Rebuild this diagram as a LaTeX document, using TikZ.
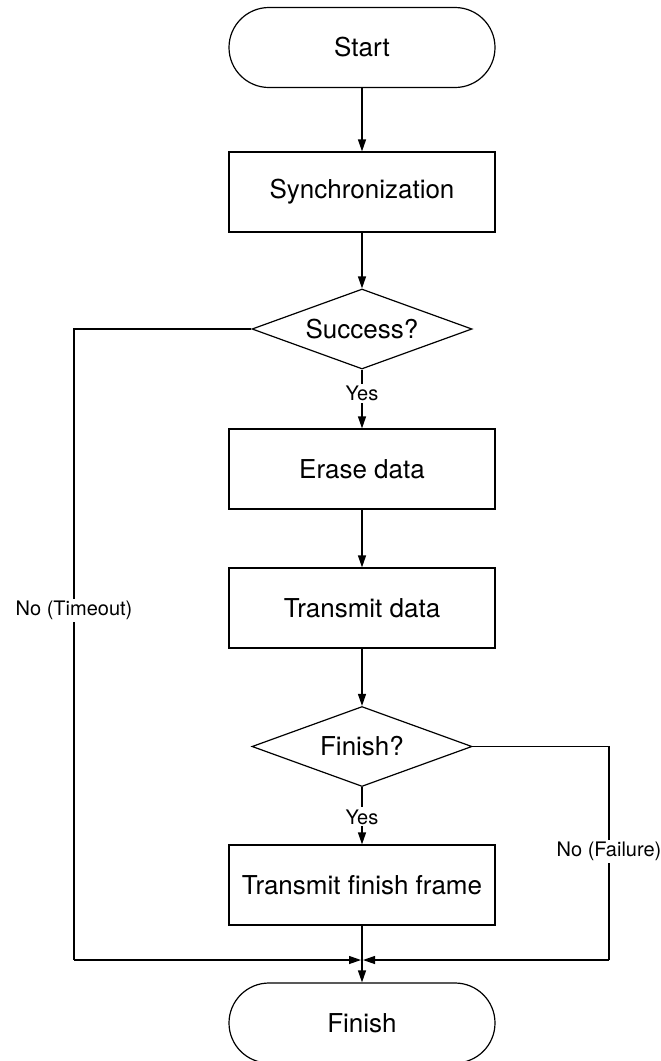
\documentclass[tikz,border=0pt]{standalone}
\usepackage{fontspec}
\setmainfont{TeX Gyre Heros}
\usepackage{tikz}
\usetikzlibrary{arrows.meta}
\usetikzlibrary{positioning}
\usetikzlibrary{shapes.geometric}
\tikzset{
  flowline/.style={line width=1.2bp, draw=black},
  flowarrow/.style={flowline, -{Triangle[length=12bp,width=8bp]}},
  procbox/.style={draw, line width=1.2bp, rectangle, minimum width=266bp,
                  minimum height=80bp, inner sep=0pt,
                  font=\fontsize{26bp}{30bp}\selectfont},
  termbox/.style={procbox, rounded corners=40bp},
  decbox/.style={draw, line width=1.2bp, diamond, aspect=2.75,
                 minimum width=220bp, minimum height=80bp, inner sep=0pt,
                 font=\fontsize{26bp}{30bp}\selectfont},
  branchlabel/.style={fill=white, inner sep=2bp,
                      font=\fontsize{20bp}{24bp}\selectfont},
}

\begin{document}
\begin{tikzpicture}[x=1bp,y=-1bp]
    \useasboundingbox (0,0) rectangle (661,1061);

    \node[termbox] (start)  at (362,47.5) {Start};
    \node[procbox] (sync)   at (362,192)  {Synchronization};
    \node[decbox]  (succ)   at (362,329)  {Success?};
    \node[procbox] (erase)  at (362,469)  {Erase data};
    \node[procbox] (tdata)  at (362,608)  {Transmit data};
    \node[decbox]  (done)   at (362,746.5) {Finish?};
    \node[procbox] (tframe) at (362,885)  {Transmit finish frame};
    \node[termbox] (finish) at (362,1023) {Finish};

    \coordinate (merge) at (362,960);
    \coordinate (leftc) at (74,960);
    \coordinate (rightc) at (609,960);

    \draw[flowarrow] (start) -- (sync);
    \draw[flowarrow] (sync) -- (succ);
    \draw[flowarrow] (succ) -- node[branchlabel, pos=0.4]{Yes} (erase);
    \draw[flowarrow] (erase) -- (tdata);
    \draw[flowarrow] (tdata) -- (done);
    \draw[flowarrow] (done) -- node[branchlabel, pos=0.52]{Yes} (tframe);
    \draw[flowarrow] (tframe) -- (finish);

    \draw[flowline] (succ.west) -| node[branchlabel, pos=0.723]{No (Timeout)} (leftc);
    \draw[flowarrow, shorten >=1bp] (leftc) -- (merge);
    \draw[flowline] (done.east) -| node[branchlabel, pos=0.745]{No (Failure)} (rightc);
    \draw[flowarrow, shorten >=1bp] (rightc) -- (merge);
\end{tikzpicture}
\end{document}
